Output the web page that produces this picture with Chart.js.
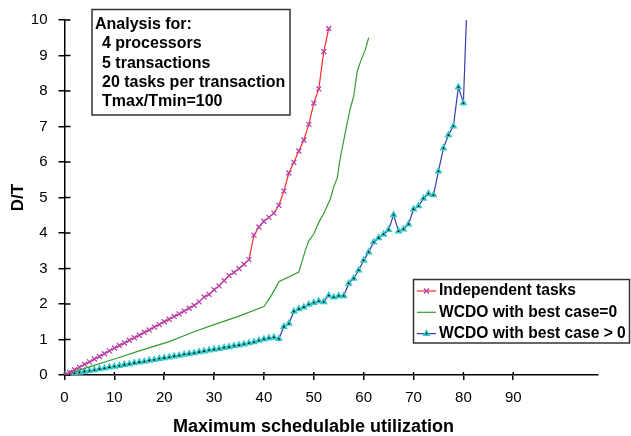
<!DOCTYPE html>
<html>
<head>
<meta charset="utf-8">
<script src="https://cdn.jsdelivr.net/npm/chart.js@4.4.1/dist/chart.umd.min.js"></script>
<style>
  html, body { margin: 0; padding: 0; background: #fff; }
</style>
</head>
<body>
<canvas id="chart" width="631" height="436"></canvas>
<script>
// values
const redX = [0, 1, 2, 3, 4, 5, 6, 7, 8, 9, 10, 11, 12, 13, 14, 15, 16, 17, 18, 19, 20,
    21, 22, 23, 24, 25, 26, 27, 28, 29, 30, 31, 32, 33, 34, 35, 36, 37, 38, 39, 40,
    41, 42, 43, 44, 45, 46, 47, 48, 49, 50, 51, 52, 53];
const redY = [0, 0.07, 0.15, 0.22, 0.30, 0.37, 0.45, 0.52, 0.60, 0.68, 0.76, 0.83, 0.90,
    0.98, 1.05, 1.12, 1.20, 1.27, 1.35, 1.42, 1.50, 1.57, 1.65, 1.72, 1.80, 1.88, 1.96,
    2.06, 2.20, 2.27, 2.40, 2.51, 2.66, 2.80, 2.89, 3.00, 3.12, 3.25, 3.94, 4.17, 4.33,
    4.44, 4.56, 4.78, 5.18, 5.69, 5.99, 6.31, 6.62, 7.06, 7.66, 8.06, 9.11, 9.76];

const greenX = [0, 5, 10, 15, 21, 26, 30, 35, 40, 41.3, 42.3, 43, 47, 47.3, 48.3, 49, 50,
    51, 52, 53.3, 54, 54.7, 55.3, 55.7, 56.7, 57.3, 58, 58.7, 59.3, 60.3, 61];
const greenY = [0, 0.23, 0.45, 0.68, 0.94, 1.22, 1.42, 1.66, 1.93, 2.2, 2.44, 2.63, 2.90,
    3.04, 3.51, 3.78, 3.97, 4.3, 4.55, 4.95, 5.3, 5.55, 6.11, 6.39, 7.1, 7.5, 7.85, 8.55,
    8.8, 9.15, 9.5];

const blueX = [0, 1, 2, 3, 4, 5, 6, 7, 8, 9, 10, 11, 12, 13, 14, 15, 16, 17, 18, 19, 20,
    21, 22, 23, 24, 25, 26, 27, 28, 29, 30, 31, 32, 33, 34, 35, 36, 37, 38, 39, 40,
    41, 42, 43, 44, 45, 46, 47, 48, 49, 50, 51, 52, 53, 54, 55, 56, 57, 58, 59, 60,
    61, 62, 63, 64, 65, 66, 67, 68, 69, 70, 71, 72, 73, 74, 75, 76, 77, 78, 79, 80, 80.7];
const blueY = [0, 0.02, 0.05, 0.07, 0.10, 0.12, 0.14, 0.17, 0.19, 0.22, 0.24, 0.26, 0.29,
    0.31, 0.34, 0.36, 0.38, 0.41, 0.43, 0.46, 0.48, 0.50, 0.53, 0.55, 0.58, 0.60, 0.62,
    0.65, 0.67, 0.70, 0.72, 0.74, 0.77, 0.79, 0.82, 0.84, 0.87, 0.90, 0.93, 0.97, 1.01,
    1.04, 1.06, 1.02, 1.36, 1.45, 1.79, 1.86, 1.91, 1.99, 2.04, 2.08, 2.06, 2.24, 2.19,
    2.23, 2.23, 2.58, 2.72, 2.95, 3.23, 3.46, 3.74, 3.86, 3.96, 4.09, 4.51, 4.05, 4.11,
    4.25, 4.67, 4.76, 4.97, 5.11, 5.07, 5.74, 6.39, 6.76, 7.01, 8.11, 7.66, 10.4];

const seriesNames = ['Independent tasks', 'WCDO with best case=0', 'WCDO with best case > 0'];
const noteLines = ['Analysis for:', '4 processors', '5 transactions', '20 tasks per transaction', 'Tmax/Tmin=100'];

const FONT = '"Liberation Sans", Arial, sans-serif';

function toPoints(xs, ys) {
    return xs.map((x, i) => ({ x: x, y: ys[i] }));
}

// tick marks also go a bit inside the plot, like the original
const innerTicks = {
    id: 'innerTicks',
    beforeDatasetsDraw(chart) {
        const { ctx, scales: { x, y } } = chart;
        ctx.save();
        ctx.strokeStyle = '#000';
        ctx.lineWidth = 1.5;
        ctx.beginPath();
        y.ticks.forEach(t => {
            let py = y.getPixelForValue(t.value);
            ctx.moveTo(x.left, py);
            ctx.lineTo(x.left + 6, py);
        });
        x.ticks.forEach(t => {
            let px = x.getPixelForValue(t.value);
            ctx.moveTo(px, y.bottom);
            ctx.lineTo(px, y.bottom - 3);
        });
        ctx.stroke();
        ctx.restore();
    }
};

// text box top left + legend box bottom right
const boxes = {
    id: 'boxes',
    afterDraw(chart) {
        const ctx = chart.ctx;
        ctx.save();
        ctx.lineWidth = 1.5;
        ctx.strokeStyle = '#333';
        ctx.fillStyle = '#fff';
        ctx.fillRect(92, 9.5, 198, 105.5);
        ctx.strokeRect(92, 9.5, 198, 105.5);
        ctx.fillStyle = '#000';
        ctx.font = 'bold 16px ' + FONT;
        ctx.textBaseline = 'middle';
        noteLines.forEach((t, i) => {
            ctx.fillText(t, i === 0 ? 95 : 102, 24.5 + i * 19.3);
        });

        ctx.fillStyle = '#fff';
        ctx.fillRect(413.5, 279.5, 216, 63.5);
        ctx.strokeRect(413.5, 279.5, 216, 63.5);
        ctx.font = 'bold 15.6px ' + FONT;
        chart.data.datasets.forEach((ds, i) => {
            let ly = 291 + i * 21.3;
            ctx.strokeStyle = ds.borderColor;
            ctx.lineWidth = ds.borderWidth;
            ctx.beginPath();
            ctx.moveTo(417, ly);
            ctx.lineTo(436, ly);
            ctx.stroke();
            if (ds.pointRadius > 0) {
                ctx.fillStyle = ds.pointBackgroundColor;
                ctx.strokeStyle = ds.pointBorderColor;
                ctx.lineWidth = ds.pointBorderWidth;
                Chart.helpers.drawPoint(ctx, {
                    pointStyle: ds.pointStyle, radius: ds.pointRadius,
                    rotation: 0, borderWidth: ds.pointBorderWidth
                }, 426.5, ly);
            }
            ctx.fillStyle = '#000';
            ctx.fillText(ds.label, 439, ly);
        });
        ctx.restore();
    }
};

new Chart(document.getElementById('chart'), {
    type: 'line',
    data: {
        datasets: [{
            label: seriesNames[0],
            data: toPoints(redX, redY),
            borderColor: '#ff2a2a',
            borderWidth: 1.2,
            pointStyle: 'crossRot',
            pointRadius: 3.5,
            pointBackgroundColor: '#b040b0',
            pointBorderColor: '#b040b0',
            pointBorderWidth: 1.3
        }, {
            label: seriesNames[1],
            data: toPoints(greenX, greenY),
            borderColor: '#339c33',
            borderWidth: 1.2,
            pointRadius: 0
        }, {
            label: seriesNames[2],
            data: toPoints(blueX, blueY),
            borderColor: '#3a3aa8',
            borderWidth: 1.2,
            pointStyle: 'triangle',
            pointRadius: 3,
            pointBackgroundColor: '#000',
            pointBorderColor: '#33c8c8',
            pointBorderWidth: 1.6
        }]
    },
    options: {
        responsive: false,
        animation: false,
        layout: { padding: { left: 4, right: 8, top: 16, bottom: 0 } },
        elements: { line: { tension: 0 } },
        plugins: {
            legend: { display: false },
            tooltip: { enabled: false },
            title: {
                display: true,
                text: 'Maximum schedulable utilization',
                position: 'bottom',
                color: '#000',
                font: { family: FONT, size: 18, weight: 'bold', lineHeight: 1 },
                padding: { top: 3, bottom: 0 }
            }
        },
        scales: {
            x: {
                type: 'linear',
                min: 0,
                max: 107,
                afterFit: s => { s.height = 40; },
                afterBuildTicks: s => { s.ticks = s.ticks.filter(t => t.value <= 90); },
                border: { color: '#000', width: 1.5 },
                grid: { drawOnChartArea: false, color: '#000', lineWidth: 1.5, tickLength: 5 },
                ticks: { stepSize: 10, color: '#000', padding: 9, maxRotation: 0,
                    font: { family: FONT, size: 15 } }
            },
            y: {
                min: 0,
                max: 10,
                afterFit: s => { s.width = 60.5; },
                border: { color: '#000', width: 1.5 },
                grid: { drawOnChartArea: false, color: '#000', lineWidth: 1.5, tickLength: 6 },
                ticks: { stepSize: 1, color: '#000', padding: 11,
                    font: { family: FONT, size: 15 } },
                title: {
                    display: true,
                    text: 'D/T',
                    color: '#000',
                    font: { family: FONT, size: 17, weight: 'bold' }
                }
            },
            // empty right strip so the plot ends where the original does
            pad: {
                type: 'linear',
                position: 'right',
                display: true,
                afterFit: s => { s.width = 25; },
                border: { display: false },
                grid: { display: false },
                ticks: { display: false }
            }
        }
    },
    plugins: [innerTicks, boxes]
});
</script>
</body>
</html>
